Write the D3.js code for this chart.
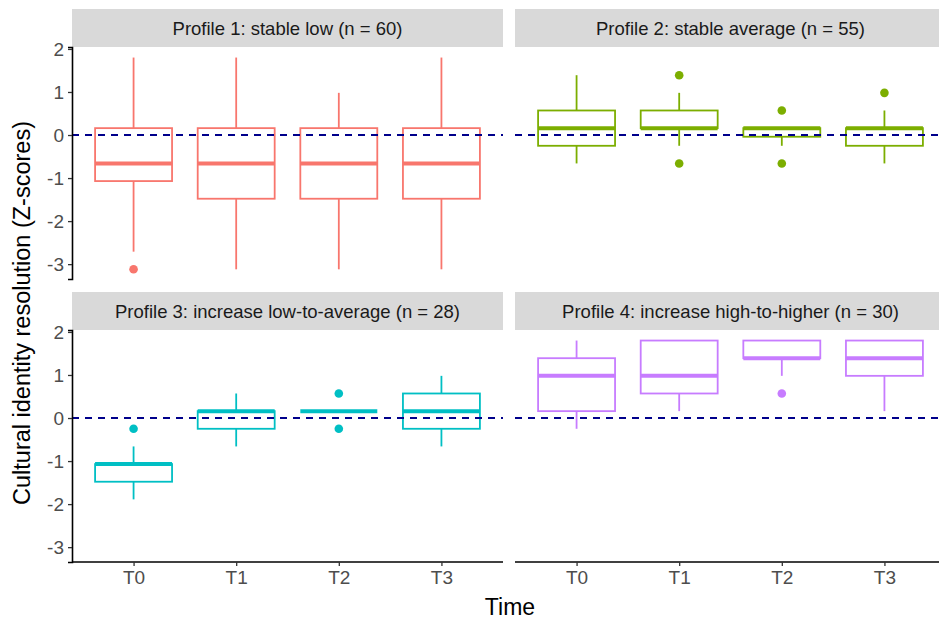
<!DOCTYPE html>
<html>
<head>
<meta charset="utf-8">
<script src="https://d3js.org/d3.v7.min.js"></script>
<style>
  body { margin: 0; background: #fff; }
  text { font-family: "Liberation Sans", Arial, Helvetica, sans-serif; }
  .axis text { font-size: 19px; fill: #4d4d4d; }
</style>
</head>
<body>
<div class="vis"></div>
<script>
  // categories and labels
  const times = ["T0", "T1", "T2", "T3"];
  const profiles = [
    "Profile 1: stable low (n = 60)",
    "Profile 2: stable average (n = 55)",
    "Profile 3: increase low-to-average (n = 28)",
    "Profile 4: increase high-to-higher (n = 30)"
  ];
  const colors = ["#F8766D", "#7CAE00", "#00BFC4", "#C77CFF"];
  const yTicks = [-3, -2, -1, 0, 1, 2];

  // box stats per profile, per time point
  const whiskerLow = [
    [-2.71, -3.12, -3.12, -3.12],
    [-0.66, -0.25, -0.25, -0.66],
    [-1.89, -0.66, 0.16, -0.66],
    [-0.25, 0.16, 0.98, 0.16]
  ];
  const q1 = [
    [-1.07, -1.48, -1.48, -1.48],
    [-0.25, 0.16, -0.04, -0.25],
    [-1.48, -0.25, 0.16, -0.25],
    [0.16, 0.57, 1.39, 0.98]
  ];
  const median = [
    [-0.66, -0.66, -0.66, -0.66],
    [0.16, 0.16, 0.16, 0.16],
    [-1.07, 0.16, 0.16, 0.16],
    [0.98, 0.98, 1.39, 1.39]
  ];
  const q3 = [
    [0.16, 0.16, 0.16, 0.16],
    [0.57, 0.57, 0.16, 0.16],
    [-1.07, 0.16, 0.16, 0.57],
    [1.39, 1.8, 1.8, 1.8]
  ];
  const whiskerHigh = [
    [1.8, 1.8, 0.98, 1.8],
    [1.39, 0.98, 0.16, 0.57],
    [-0.66, 0.57, 0.16, 0.98],
    [1.8, 1.8, 1.8, 1.8]
  ];
  const outliers = [
    [[-3.12], [], [], []],
    [[], [1.39, -0.66], [0.57, -0.66], [0.98]],
    [[-0.25], [], [0.57, -0.25], []],
    [[], [], [0.57], []]
  ];

  const width = 939, height = 621;
  const colX = [72, 515], panelW = 431;
  const rowY = [47, 330], panelH = 232, stripH = 38;

  const svg = d3.select(".vis").append("svg")
    .attr("width", width)
    .attr("height", height);

  const y = d3.scaleLinear().domain([-3.345, 2.045]).range([panelH, 0]);
  const x = d3.scalePoint().domain(times).range([0, panelW]).padding(0.6);
  const boxW = x.step() * 0.75;

  profiles.forEach((title, i) => {
    const row = Math.floor(i / 2), col = i % 2;
    const g = svg.append("g")
      .attr("transform", `translate(${colX[col]},${rowY[row]})`);

    // strip
    g.append("rect")
      .attr("x", 0).attr("y", -stripH)
      .attr("width", panelW).attr("height", stripH)
      .attr("fill", "#d9d9d9");
    g.append("text")
      .attr("x", panelW / 2).attr("y", -stripH / 2)
      .attr("dy", "0.36em")
      .attr("text-anchor", "middle")
      .style("font-size", "18.5px")
      .attr("fill", "#1a1a1a")
      .text(title);

    const stats = times.map((t, j) => ({
      t: t,
      lo: whiskerLow[i][j], q1: q1[i][j], med: median[i][j],
      q3: q3[i][j], hi: whiskerHigh[i][j], out: outliers[i][j]
    }));
    const c = colors[i];

    const box = g.selectAll(".box").data(stats).join("g")
      .attr("class", "box")
      .attr("transform", d => `translate(${x(d.t)},0)`);

    box.append("line")
      .attr("x1", 0).attr("x2", 0)
      .attr("y1", d => y(d.q3)).attr("y2", d => y(d.hi))
      .attr("stroke", c).attr("stroke-width", 1.8);
    box.append("line")
      .attr("x1", 0).attr("x2", 0)
      .attr("y1", d => y(d.q1)).attr("y2", d => y(d.lo))
      .attr("stroke", c).attr("stroke-width", 1.8);
    box.append("rect")
      .attr("x", -boxW / 2).attr("width", boxW)
      .attr("y", d => y(d.q3))
      .attr("height", d => y(d.q1) - y(d.q3))
      .attr("fill", "#fff")
      .attr("stroke", c).attr("stroke-width", 1.8);
    box.append("line")
      .attr("x1", -boxW / 2).attr("x2", boxW / 2)
      .attr("y1", d => y(d.med)).attr("y2", d => y(d.med))
      .attr("stroke", c).attr("stroke-width", 4);
    box.selectAll("circle")
      .data(d => d.out)
      .join("circle")
      .attr("cx", 0).attr("cy", d => y(d))
      .attr("r", 4.3)
      .attr("fill", c);

    // reference line at zero
    g.append("line")
      .attr("x1", 0).attr("x2", panelW)
      .attr("y1", y(0)).attr("y2", y(0))
      .attr("stroke", "#00008B")
      .attr("stroke-width", 2)
      .attr("stroke-dasharray", "7,6");

    if (col === 0) {
      const ax = g.append("g")
        .attr("class", "axis")
        .call(d3.axisLeft(y).tickValues(yTicks).tickSize(4).tickPadding(4).tickFormat(d => String(d)));
      ax.attr("font-size", 19).attr("font-family", "'Liberation Sans', Arial, sans-serif");
      ax.select(".domain").attr("stroke", "#000").attr("stroke-width", 1.6);
      ax.selectAll(".tick line").attr("stroke", "#333").attr("stroke-width", 1.3);
      ax.selectAll(".tick text").attr("fill", "#4d4d4d");
    }
    if (row === 1) {
      const ax = g.append("g")
        .attr("class", "axis")
        .attr("transform", `translate(0,${panelH})`)
        .call(d3.axisBottom(x).tickSize(4).tickPadding(5).tickSizeOuter(0));
      ax.attr("font-size", 19).attr("font-family", "'Liberation Sans', Arial, sans-serif");
      ax.select(".domain").attr("stroke", "#000").attr("stroke-width", 1.6)
        .attr("d", `M0,0H${panelW}`);
      ax.selectAll(".tick line").attr("stroke", "#333").attr("stroke-width", 1.3);
      ax.selectAll(".tick text").attr("fill", "#4d4d4d");
    }
  });

  // axis titles
  svg.append("text")
    .attr("transform", "translate(30,313) rotate(-90)")
    .attr("text-anchor", "middle")
    .style("font-size", "23.5px")
    .attr("fill", "#000")
    .text("Cultural identity resolution (Z-scores)");
  svg.append("text")
    .attr("x", 510).attr("y", 615)
    .attr("text-anchor", "middle")
    .style("font-size", "23px")
    .attr("fill", "#000")
    .text("Time");
</script>
</body>
</html>
